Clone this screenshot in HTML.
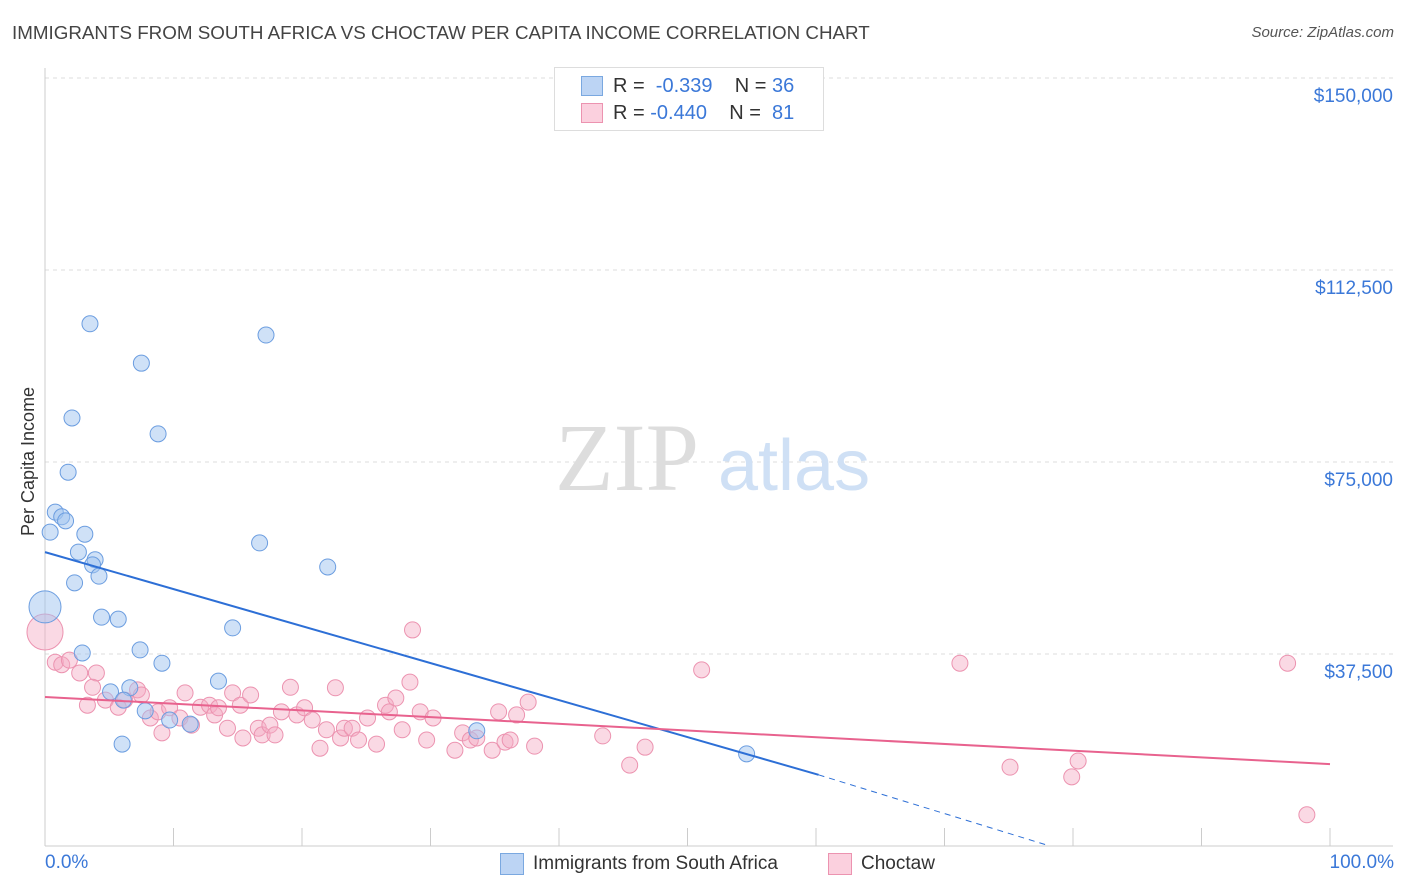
<!DOCTYPE html>
<html><head><meta charset="utf-8"><style>
body{margin:0;background:#fff;font-family:"Liberation Sans",sans-serif;}
#wrap{position:relative;width:1406px;height:892px;overflow:hidden;}
.t{position:absolute;white-space:nowrap;}
</style></head><body>
<div id="wrap">
<div class="t" style="left:12px;top:22px;font-size:18.8px;color:#444;">IMMIGRANTS FROM SOUTH AFRICA VS CHOCTAW PER CAPITA INCOME CORRELATION CHART</div>
<div class="t" style="right:12px;top:24px;font-size:15px;color:#555;font-style:italic;">Source: ZipAtlas.com</div>
<svg id="svg" width="1406" height="892" style="position:absolute;left:0;top:0"></svg>
</div>
<script>
const blueX=[0,3.5,17.2,7.5,2.1,8.8,1.8,0.8,1.3,1.6,0.4,3.1,16.7,2.6,3.9,3.7,22.0,4.2,2.3,4.4,5.7,14.6,2.9,7.4,9.1,13.5,6.6,5.1,6.1,7.8,9.7,11.3,33.6,6.0,54.6];
const blueY=[46.7,102.0,99.8,94.3,83.6,80.5,73.0,65.2,64.3,63.5,61.3,60.9,59.2,57.4,55.9,54.9,54.5,52.7,51.4,44.7,44.3,42.6,37.7,38.3,35.7,32.2,30.9,30.1,28.5,26.4,24.6,23.8,22.5,19.9,18.0];
const pinkX=[0,0.8,1.3,1.9,2.7,4.0,3.7,3.3,4.7,5.7,6.2,7.2,7.5,8.2,9.1,8.8,9.7,10.5,10.9,11.4,12.1,12.8,13.2,13.5,14.2,14.6,15.2,15.4,16.0,16.6,16.9,17.5,17.9,18.4,19.1,19.6,20.2,20.8,21.4,21.9,22.6,23.0,23.3,23.9,24.4,25.1,25.8,26.5,26.8,27.3,27.8,28.4,28.6,29.2,29.7,30.2,31.9,32.5,33.1,33.6,34.8,35.3,35.8,36.2,36.7,37.6,38.1,43.4,45.5,46.7,51.1,71.2,75.1,79.9,80.4,96.7,98.2];
const pinkY=[41.8,35.9,35.4,36.3,33.8,33.8,31.0,27.5,28.5,27.1,28.5,30.5,29.5,25.0,22.1,26.2,27.0,25.0,29.9,23.6,27.1,27.5,25.6,27.0,23.0,29.9,27.5,21.1,29.5,23.0,21.7,23.6,21.7,26.2,31.0,25.6,27.0,24.6,19.1,22.7,30.9,21.1,23.0,23.0,20.7,25.0,19.9,27.5,26.2,28.9,22.7,32.0,42.2,26.2,20.7,25.0,18.7,22.1,20.7,21.1,18.7,26.2,20.3,20.7,25.6,28.1,19.5,21.5,15.8,19.3,34.4,35.7,15.4,13.5,16.6,35.7,6.1];
const blueTrend=[0,57.4,60.2,13.9,78.2,0];
const pinkTrend=[0,29.1,100,16.0];
const yTicks=[37.5,75,112.5,150];
const yLabels=["$37,500","$75,000","$112,500","$150,000"];
const xs=v=>45+v*12.85, ys=v=>846-v*5.12;
const svg=document.getElementById('svg');const NS='http://www.w3.org/2000/svg';
function mk(t,a,name){const e=document.createElementNS(NS,t);for(const k in a)e.setAttribute(k,a[k]);


svg.appendChild(e);return e;}
yTicks.forEach((v,i)=>{mk('line',{x1:45,x2:1393,y1:ys(v),y2:ys(v),stroke:'#ddd','stroke-dasharray':'4,4'},'gridline');
const t=mk('text',{x:1393,y:ys(v)+24,'text-anchor':'end','font-size':19,fill:'#3b78d8'},'y-tick-label');t.textContent=yLabels[i];});
mk('line',{x1:45,x2:45,y1:68,y2:846,stroke:'#ccc'},'y-axis');
mk('line',{x1:45,x2:1393,y1:846,y2:846,stroke:'#ccc'},'x-axis');
for(let i=0;i<=10;i++)mk('line',{x1:xs(i*10),x2:xs(i*10),y1:828,y2:846,stroke:'#ccc'},'x-tick');
let w=mk('text',{x:555,y:490,'font-size':96,fill:'#ddd','font-family':'Liberation Serif'},'watermark-zip');w.textContent='ZIP';
w=mk('text',{x:718,y:490,'font-size':72,fill:'#cfe0f5'},'watermark-atlas');w.textContent='atlas';
pinkX.forEach((x,i)=>mk('circle',{cx:xs(x),cy:ys(pinkY[i]),r:i==0?18:8,fill:'rgba(244,170,195,0.45)',stroke:'#ec93b0','stroke-width':1},'choctaw-point'));
blueX.forEach((x,i)=>mk('circle',{cx:xs(x),cy:ys(blueY[i]),r:i==0?16:8,fill:'rgba(160,195,240,0.5)',stroke:'#6b9de0','stroke-width':1},'south-africa-point'));
mk('line',{x1:xs(blueTrend[0]),y1:ys(blueTrend[1]),x2:xs(blueTrend[2]),y2:ys(blueTrend[3]),stroke:'#2d6fd6','stroke-width':2},'south-africa-trendline');
mk('line',{x1:xs(blueTrend[2]),y1:ys(blueTrend[3]),x2:xs(blueTrend[4]),y2:ys(blueTrend[5]),stroke:'#2d6fd6','stroke-width':1,'stroke-dasharray':'6,5'},'south-africa-trend-extension');
mk('line',{x1:xs(pinkTrend[0]),y1:ys(pinkTrend[1]),x2:xs(pinkTrend[2]),y2:ys(pinkTrend[3]),stroke:'#e8628e','stroke-width':2},'choctaw-trendline');
</script>
<div class="t" style="transform:rotate(-90deg);transform-origin:0 0;font-size:18px;color:#333;left:18px;top:536px;">Per Capita Income</div>
<div class="t" style="left:45px;top:852px;font-size:19px;color:#3b78d8;">0.0%</div>
<div class="t" style="right:12px;top:852px;font-size:19px;color:#3b78d8;">100.0%</div>
<div style="position:absolute;left:554px;top:67px;width:268px;height:62px;border:1px solid #ddd;background:#fff;font-size:20px;color:#333;">
<div style="position:absolute;left:26px;top:8px;width:20px;height:18px;background:#bcd4f4;border:1px solid #7aa8e0"></div>
<div class="t" style="left:58px;top:7px">R = <span style="color:#3b78d8">&nbsp;-0.339</span>&nbsp;&nbsp;&nbsp; N = <span style="color:#3b78d8">36</span></div>
<div style="position:absolute;left:26px;top:35px;width:20px;height:18px;background:#fbd0de;border:1px solid #ec93b0"></div>
<div class="t" style="left:58px;top:34px">R = <span style="color:#3b78d8">-0.440</span>&nbsp;&nbsp;&nbsp; N = <span style="color:#3b78d8">&nbsp;81</span></div>
</div>
<div style="position:absolute;left:500px;top:853px;width:22px;height:20px;background:#bcd4f4;border:1px solid #7aa8e0"></div>
<div class="t" style="left:533px;top:853px;font-size:19px;color:#333">Immigrants from South Africa</div>
<div style="position:absolute;left:828px;top:853px;width:22px;height:20px;background:#fbd0de;border:1px solid #ec93b0"></div>
<div class="t" style="left:861px;top:853px;font-size:19px;color:#333">Choctaw</div>
</body></html>
